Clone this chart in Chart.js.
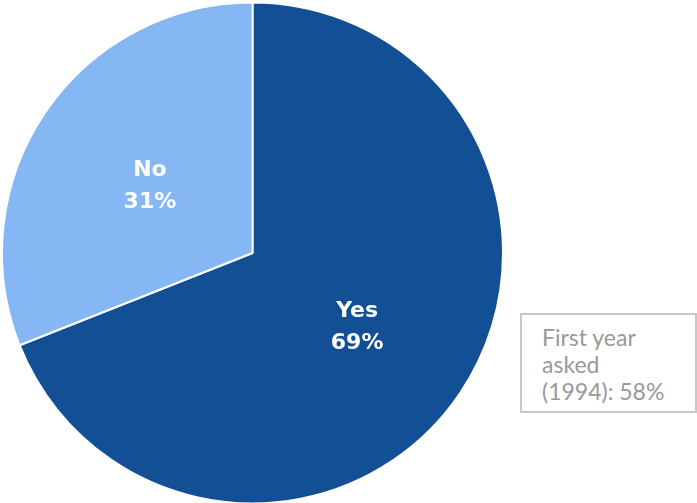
<!DOCTYPE html>
<html>
<head>
<meta charset="utf-8">
<script src="https://cdn.jsdelivr.net/npm/chart.js@4"></script>
<style>
  body { margin: 0; background: #fff; width: 697px; height: 503px; overflow: hidden; position: relative; }
  #pie { position: absolute; left: 0; top: 0; }
  .note {
    position: absolute; left: 520px; top: 313px; width: 173px; height: 96px;
    border: 2px solid #c8c8c8; box-sizing: content-box;
    font-family: 'Lato', sans-serif; font-size: 23px; line-height: 27px; color: #999;
  }
  .note span { display: block; padding: 9px 0 0 20px; }
</style>
</head>
<body>
<canvas id="pie" width="505" height="506"></canvas>
<div class="note"><span>First year<br>asked<br>(1994): 58%</span></div>
<script>
// pie data
const labels = ['Yes', 'No'];
const values = [69, 31];
const colors = ['#134f94', '#86b7f5'];

// draws "Label / NN%" in the middle of every slice
const sliceLabels = {
    id: 'sliceLabels',
    afterDatasetsDraw(chart) {
        const ctx = chart.ctx;
        const meta = chart.getDatasetMeta(0);
        ctx.save();
        ctx.fillStyle = '#fff';
        ctx.textAlign = 'center';
        ctx.textBaseline = 'middle';
        ctx.font = 'bold 22px "DejaVu Sans", sans-serif';
        meta.data.forEach(function(arc, i) {
            const pos = arc.tooltipPosition();
            ctx.fillText(labels[i], pos.x + 1, pos.y - 12);
            ctx.fillText(values[i] + '%', pos.x + 1, pos.y + 20);
        });
        ctx.restore();
    }
};

new Chart(document.getElementById('pie'), {
    type: 'pie',
    data: {
        labels: labels,
        datasets: [{
            data: values,
            backgroundColor: colors,
            borderColor: '#fff',
            borderWidth: 2
        }]
    },
    options: {
        responsive: false,
        animation: false,
        layout: { padding: 1 },
        plugins: {
            legend: { display: false },
            tooltip: { enabled: false }
        }
    },
    plugins: [sliceLabels]
});
</script>
</body>
</html>
